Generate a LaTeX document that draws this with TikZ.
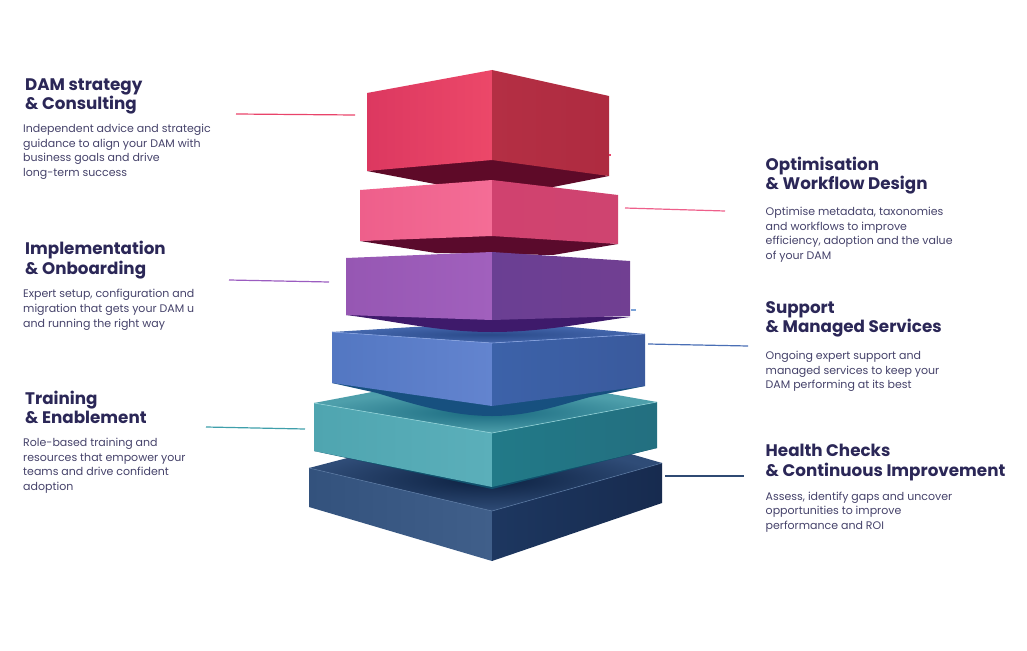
\documentclass[tikz,border=0pt]{standalone}
\usepackage{fontspec}
\setmainfont{Poppins}
\definecolor{ink}{HTML}{2B2757}
\definecolor{body}{HTML}{45426A}
\definecolor{navyTopA}{HTML}{0C2040}\definecolor{navyTopB}{HTML}{2F4C77}
\definecolor{navyLA}{HTML}{33527D}\definecolor{navyLB}{HTML}{405F8A}
\definecolor{navyRA}{HTML}{1D3760}\definecolor{navyRB}{HTML}{172B4F}
\definecolor{navyEdge}{HTML}{55749E}
\definecolor{tealUnder}{HTML}{0F4F6B}
\definecolor{tealTopA}{HTML}{1A6A80}\definecolor{tealTopB}{HTML}{4E9FAB}
\definecolor{tealLA}{HTML}{4FA5B0}\definecolor{tealLB}{HTML}{5BAFBA}
\definecolor{tealRA}{HTML}{227A88}\definecolor{tealRB}{HTML}{236F80}
\definecolor{tealEdge}{HTML}{8FD0D6}
\definecolor{blueUnder}{HTML}{17507F}
\definecolor{blueTopA}{HTML}{2A4A8A}\definecolor{blueTopB}{HTML}{4568AE}
\definecolor{blueLA}{HTML}{5377C2}\definecolor{blueLB}{HTML}{6384CF}
\definecolor{blueRA}{HTML}{3C62A9}\definecolor{blueRB}{HTML}{3A5A9D}
\definecolor{blueEdge}{HTML}{86A2E0}
\definecolor{purpUnder}{HTML}{3E1A6B}
\definecolor{purpLA}{HTML}{9657B3}\definecolor{purpLB}{HTML}{A160BD}
\definecolor{purpRA}{HTML}{6A3F93}\definecolor{purpRB}{HTML}{713F92}
\definecolor{pinkUnder}{HTML}{5A0A2C}
\definecolor{pinkLA}{HTML}{EE5F8B}\definecolor{pinkLB}{HTML}{F46D96}
\definecolor{pinkRA}{HTML}{D0426F}\definecolor{pinkRB}{HTML}{CF4470}
\definecolor{redUnder}{HTML}{5E0A28}
\definecolor{redLA}{HTML}{DC3860}\definecolor{redLB}{HTML}{EC4869}
\definecolor{redRA}{HTML}{B42F44}\definecolor{redRB}{HTML}{AE2B40}
\definecolor{leadRed}{HTML}{E9436A}\definecolor{leadPink}{HTML}{EE5F8B}
\definecolor{leadPurp}{HTML}{9B5CC0}\definecolor{leadBlue}{HTML}{4A6FB5}
\definecolor{leadTeal}{HTML}{3F9FAB}\definecolor{leadNavy}{HTML}{2F4A73}
\definecolor{leadTick}{HTML}{7BA3D8}
\tikzset{
  x=1pt,y=-1pt,
  head/.style={anchor=north west,inner sep=0pt,align=left,text=ink,font=\bfseries\fontsize{16.75}{19.5}\selectfont},
  desc/.style={anchor=north west,inner sep=0pt,align=left,text=body,font=\fontsize{11}{14.7}\selectfont},
  lead/.style={line width=1.2pt},
  edge/.style={line width=0.6pt}
}
\begin{document}
\begin{tikzpicture}
\useasboundingbox (0,0) rectangle (1027,650);
% navy block
\shade[inner color=navyTopA,outer color=navyTopB] (309,468) -- (355,456) -- (610,448) -- (662,463) -- (492,511) -- cycle;
\shade[left color=navyLA,right color=navyLB] (309,468) -- (492,511) -- (492,561) -- (309,507) -- cycle;
\shade[left color=navyRA,right color=navyRB] (492,511) -- (662,463) -- (662,503) -- (492,561) -- cycle;
\draw[edge,navyEdge] (309,468) -- (492,511) -- (662,463);
% teal block
\fill[tealUnder] (314,451) -- (492,489) -- (657,448) -- (492,470) -- cycle;
\shade[inner color=tealTopA,outer color=tealTopB] (314,403) -- (372,392) -- (600,392) -- (657,402) -- (492,433) -- cycle;
\shade[left color=tealLA,right color=tealLB] (314,403) -- (492,433) -- (492,487) -- (314,451) -- cycle;
\shade[left color=tealRA,right color=tealRB] (492,433) -- (657,402) -- (657,448) -- (492,487) -- cycle;
\draw[edge,tealEdge] (314,403) -- (492,433) -- (657,402);
% blue block
\fill[blueUnder] (332,383) -- (377,393) .. controls (410,403) and (450,416) .. (492,416) .. controls (530,416) and (560,405) .. (590,397) -- (645,386) -- cycle;
\shade[inner color=blueTopA,outer color=blueTopB] (332,332) -- (430,326) -- (560,326) -- (645,334) -- (492,343) -- cycle;
\shade[left color=blueLA,right color=blueLB] (332,332) -- (492,343) -- (492,406) -- (332,383) -- cycle;
\shade[left color=blueRA,right color=blueRB] (492,343) -- (645,334) -- (645,386) -- (492,406) -- cycle;
\draw[edge,blueEdge] (332,332) -- (492,343) -- (645,334);
% undersides of the upper blocks
\fill[purpUnder] (346,315) .. controls (400,322) and (440,332) .. (492,332) .. controls (545,332) and (590,322) .. (630,317) -- cycle;
\fill[redUnder] (367,171) -- (435,184) -- (553,187) -- (609,176) -- (492,155) -- cycle;
\fill[pinkUnder] (360,241) -- (436,253) -- (553,255) -- (618,244) -- (492,232) -- cycle;
% purple block
\shade[left color=purpLA,right color=purpLB] (346,258) -- (492,252) -- (492,320) -- (346,315) -- cycle;
\shade[left color=purpRA,right color=purpRB] (492,252) -- (630,261) -- (630,316) -- (492,320) -- cycle;
% pink block
\shade[left color=pinkLA,right color=pinkLB] (360,190) -- (492,180) -- (492,236) -- (360,241) -- cycle;
\shade[left color=pinkRA,right color=pinkRB] (492,180) -- (618,195) -- (618,244) -- (492,236) -- cycle;
% red block
\shade[left color=redLA,right color=redLB] (367,93) -- (492,70) -- (492,160) -- (367,171) -- cycle;
\shade[left color=redRA,right color=redRB] (492,70) -- (609,96) -- (609,176) -- (492,160) -- cycle;
% connector ends
\coordinate (ra) at (236,114); \coordinate (rb) at (355,115);
\coordinate (pa) at (625,208); \coordinate (pb) at (725,211);
\coordinate (va) at (229,280); \coordinate (vb) at (329,282);
\coordinate (ba) at (648,344); \coordinate (bb) at (748,346);
\coordinate (ta) at (206,427); \coordinate (tb) at (305,429);
\coordinate (na) at (665,476); \coordinate (nb) at (744,476);
\coordinate (ka) at (609,155); \coordinate (kb) at (611,155);
\coordinate (la) at (631,310); \coordinate (lb) at (636,310);
\draw[lead,color=leadRed] (ra) -- (rb);
\draw[lead,color=leadPink] (pa) -- (pb);
\draw[lead,color=leadPurp] (va) -- (vb);
\draw[lead,color=leadBlue] (ba) -- (bb);
\draw[lead,color=leadTeal] (ta) -- (tb);
\draw[lead,color=leadNavy] (na) -- (nb);
\draw[lead,color=leadRed] (ka) -- (kb);
\draw[lead,color=leadTick] (la) -- (lb);
% texts
\node[head] (h1) at (25,78.5) {DAM strategy\\\& Consulting};
\node[desc] (d1) at (23,124) {Independent advice and strategic\\guidance to align your DAM with\\business goals and drive\\long-term success};
\node[head] (h2) at (25,241) {Implementation\\\& Onboarding};
\node[desc] (d2) at (23,289) {Expert setup, configuration and\\migration that gets your DAM u\\and running the right way};
\node[head] (h3) at (25,390.5) {Training\\\& Enablement};
\node[desc] (d3) at (23,438) {Role-based training and\\resources that empower your\\teams and drive confident\\adoption};
\node[head] (h4) at (765.5,156.5) {Optimisation\\\& Workflow Design};
\node[desc] (d4) at (765.5,207) {Optimise metadata, taxonomies\\and workflows to improve\\efficiency, adoption and the value\\of your DAM};
\node[head] (h5) at (765.5,301) {Support\\\& Managed Services};
\node[desc] (d5) at (765.5,351) {Ongoing expert support and\\managed services to keep your\\DAM performing at its best};
\node[head] (h6) at (765.5,444) {Health Checks\\\& Continuous Improvement};
\node[desc] (d6) at (765.5,491.5) {Assess, identify gaps and uncover\\opportunities to improve\\performance and ROI};
\end{tikzpicture}
\end{document}
